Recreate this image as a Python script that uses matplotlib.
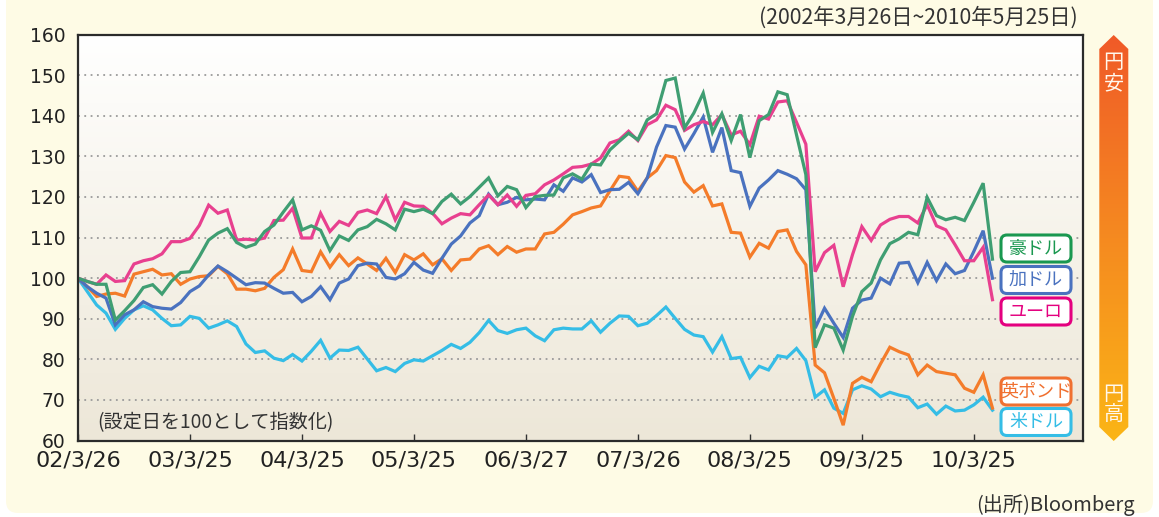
import matplotlib
matplotlib.use("Agg")
import matplotlib.pyplot as plt
import numpy as np
from matplotlib.patches import FancyBboxPatch, Polygon
from matplotlib.colors import LinearSegmentedColormap
from matplotlib.transforms import Affine2D

plt.rcParams['font.family'] = ['Noto Sans CJK JP', 'DejaVu Sans']

# month-end index values, 2002/3/26 = 100 (one point per month, 99 points)
aud = [100, 99.2, 98.5, 98.5, 89.7, 92.0, 94.5, 97.7, 98.4, 96.1,
       99.2, 101.4, 101.6, 105.3, 109.4, 111.1, 112.2, 108.8, 107.6, 108.4,
       111.5, 113.1, 116.3, 119.3, 111.9, 112.9, 111.8, 106.8, 110.4, 109.3,
       111.9, 112.7, 114.5, 113.4, 111.9, 117.0, 116.4, 117.0, 115.9, 118.9,
       120.7, 118.3, 120.1, 122.4, 124.7, 120.3, 122.6, 121.8, 117.4, 120.1,
       120.4, 120.5, 124.7, 125.7, 124.4, 128.1, 127.9, 131.6, 133.7, 135.7,
       134.1, 139.0, 140.5, 148.7, 149.3, 137.0, 140.7, 145.6, 135.9, 140.5,
       133.9, 140.3, 129.7, 138.8, 140.3, 145.9, 145.2, 135.3, 125.5, 82.9,
       88.5, 87.7, 82.3, 90.6, 96.7, 98.8, 104.5, 108.5, 109.7, 111.3,
       110.7, 119.9, 115.4, 114.4, 115.0, 114.2, 118.7, 123.4, 104.7]
cad = [100, 97.9, 96.3, 95.1, 88.5, 91.0, 92.2, 94.2, 93.0, 92.6,
       92.4, 94.0, 96.7, 98.1, 100.8, 103.0, 101.6, 100.0, 98.4, 98.9,
       98.8, 97.5, 96.3, 96.5, 94.2, 95.5, 97.9, 94.7, 98.8, 99.8,
       103.1, 103.7, 103.5, 100.2, 99.8, 101.1, 103.9, 102.0, 101.2, 104.9,
       108.4, 110.4, 113.6, 115.4, 120.7, 118.1, 118.7, 119.9, 119.3, 119.5,
       119.3, 123.0, 121.4, 124.7, 123.7, 125.5, 121.1, 121.8, 121.9, 123.6,
       120.8, 124.7, 132.3, 137.6, 137.2, 131.8, 135.6, 139.7, 131.0, 137.1,
       126.5, 126.0, 117.7, 122.2, 124.2, 126.5, 125.6, 124.5, 121.8, 87.7,
       92.6, 88.9, 85.4, 92.6, 94.6, 95.1, 100.0, 98.6, 103.7, 103.9,
       98.9, 103.9, 99.4, 103.5, 101.1, 101.9, 106.6, 111.7, 100.0]
eur = [100, 99.2, 98.5, 100.8, 99.2, 99.4, 103.5, 104.3, 104.8, 106.0,
       109.0, 109.0, 109.8, 113.0, 118.0, 116.0, 116.8, 109.4, 109.6, 109.4,
       109.9, 114.2, 114.3, 117.2, 109.9, 109.9, 116.0, 111.5, 114.0, 113.0,
       116.2, 116.8, 115.9, 120.1, 114.4, 118.7, 117.8, 117.7, 116.0, 113.4,
       114.8, 115.9, 115.6, 118.1, 120.5, 118.1, 120.5, 117.7, 120.4, 120.8,
       123.0, 124.2, 125.7, 127.3, 127.5, 128.1, 129.6, 133.3, 134.1, 136.2,
       133.9, 137.8, 139.0, 142.6, 141.5, 136.4, 137.8, 138.6, 137.8, 140.3,
       135.3, 136.2, 132.9, 139.9, 139.2, 143.4, 143.7, 138.4, 133.0, 101.6,
       106.3, 108.1, 97.9, 105.8, 112.7, 109.3, 113.1, 114.5, 115.2, 115.2,
       113.6, 118.1, 112.9, 111.9, 108.2, 104.3, 104.3, 107.6, 94.7]
gbp = [100, 97.9, 95.5, 96.1, 96.3, 95.6, 101.0, 101.6, 102.2, 100.8,
       101.1, 98.5, 99.8, 100.4, 100.6, 102.9, 101.1, 97.3, 97.3, 96.9,
       97.5, 100.2, 102.1, 107.2, 101.9, 101.6, 106.5, 102.7, 105.8, 103.1,
       105.0, 103.5, 101.9, 104.9, 101.4, 105.8, 104.5, 106.0, 103.3, 104.8,
       101.9, 104.5, 104.7, 107.2, 108.0, 105.8, 107.8, 106.4, 107.2, 107.2,
       110.9, 111.3, 113.3, 115.6, 116.4, 117.3, 117.8, 121.5, 125.1, 124.8,
       121.4, 124.7, 126.5, 130.2, 129.7, 123.7, 121.2, 122.8, 117.8, 118.3,
       111.3, 111.1, 105.2, 108.6, 107.4, 111.5, 111.9, 106.6, 103.3, 78.6,
       76.7, 70.4, 63.8, 74.1, 75.6, 74.5, 78.9, 83.0, 81.9, 81.1,
       76.2, 78.6, 77.0, 76.6, 76.2, 72.9, 71.9, 76.2, 68.0]
usd = [100, 96.7, 93.4, 91.4, 87.4, 90.1, 92.2, 93.2, 92.2, 90.1,
       88.3, 88.5, 90.6, 90.1, 87.7, 88.5, 89.5, 88.1, 83.8, 81.7,
       82.1, 80.3, 79.7, 81.2, 79.6, 82.0, 84.7, 80.3, 82.3, 82.2,
       83.0, 80.1, 77.2, 78.0, 77.0, 79.0, 79.9, 79.6, 80.9, 82.2,
       83.7, 82.7, 84.2, 86.6, 89.6, 87.1, 86.4, 87.3, 87.7, 85.8,
       84.6, 87.3, 87.7, 87.5, 87.5, 89.5, 86.7, 88.9, 90.7, 90.6,
       88.3, 88.9, 90.8, 92.9, 90.1, 87.4, 86.0, 85.6, 81.8, 85.6,
       80.2, 80.5, 75.5, 78.3, 77.4, 80.9, 80.5, 82.7, 79.7, 70.7,
       72.5, 68.0, 66.7, 72.5, 73.5, 72.7, 70.8, 71.9, 71.2, 70.7,
       68.1, 69.0, 66.5, 68.5, 67.3, 67.5, 68.8, 70.7, 67.5]

series_names = ["豪ドル", "加ドル", "ユーロ", "英ポンド", "米ドル"]
tick_months = [0, 12, 24, 36, 48, 60, 72, 84, 96]
tick_labels = ["02/3/26", "03/3/25", "04/3/25", "05/3/25", "06/3/27",
               "07/3/26", "08/3/25", "09/3/25", "10/3/25"]
y_ticks = [60, 70, 80, 90, 100, 110, 120, 130, 140, 150, 160]

W, H = 1159, 517
fig = plt.figure(figsize=(W / 100, H / 100), dpi=100, facecolor="white")
# pixel coordinates (origin top-left) -> figure
px = Affine2D().scale(1 / W, -1 / H).translate(0, 1) + fig.transFigure

fig.patches.append(FancyBboxPatch((6, -20), 1147, 533, boxstyle="round,pad=0,rounding_size=12",
                                  fc="#fefbe5", ec="none", transform=px, zorder=-5))

ax = fig.add_axes([78 / W, 1 - 440.6 / H, (1083 - 78) / W, (440.6 - 34.6) / H])
ax.set_facecolor("none")
grad = np.linspace(0, 1, 256).reshape(-1, 1)
bg = LinearSegmentedColormap.from_list("bg", ["#ede7d8", "#f6f3ea", "#ffffff"])
ax.imshow(grad, cmap=bg, extent=[0, 1, 0, 1], transform=ax.transAxes,
          aspect="auto", origin="lower", zorder=0)

months = np.arange(len(aud))
colors = {"豪ドル": "#3f9e72", "加ドル": "#4a72bf", "ユーロ": "#e8408f",
          "英ポンド": "#f47c2a", "米ドル": "#35bde6"}
for name, vals in [("米ドル", usd), ("英ポンド", gbp), ("加ドル", cad),
                   ("ユーロ", eur), ("豪ドル", aud)]:
    ax.plot(months, vals, color=colors[name], lw=2.3, solid_joinstyle="miter", zorder=3)

ax.set_xlim(0, 107.7)
ax.set_ylim(60, 160)
ax.set_yticks(y_ticks)
ax.set_yticklabels([str(v) for v in y_ticks], family="DejaVu Sans", fontsize=13.5, color="#222222")
ax.set_xticks(tick_months)
ax.set_xticklabels(tick_labels, family="DejaVu Sans", fontsize=16, color="#222222")
ax.tick_params(axis="y", length=0, pad=9)
ax.tick_params(axis="x", direction="in", length=5, width=1, color="#333333", pad=7)
ax.yaxis.grid(True, color="#9a9a9a", lw=1.3, ls=(0, (1, 2.5)))
ax.set_axisbelow(False)
for s in ax.spines.values():
    s.set_color("#2b2b2b")
    s.set_linewidth(1.6)
    s.set_zorder(4)

ax.text(97, 422.5, "(設定日を100として指数化)", transform=px, fontsize=13.8,
        color="#333333", va="center", ha="left", zorder=5)

# legend boxes
legend_y = {"豪ドル": 248.5, "加ドル": 280, "ユーロ": 311.5, "英ポンド": 391.5, "米ドル": 422}
edge = {"豪ドル": "#1a9850", "加ドル": "#4a72bf", "ユーロ": "#e4007f",
        "英ポンド": "#f07030", "米ドル": "#35bde6"}
for name in series_names:
    cy = legend_y[name]
    fig.patches.append(FancyBboxPatch((1001, cy - 13.5), 70, 27,
                                      boxstyle="round,pad=0,rounding_size=6",
                                      fc="white", ec=edge[name], lw=2.2, transform=px, zorder=6))
    fig.text(1036, cy, name, transform=px, fontsize=13, color=edge[name],
             ha="center", va="center", zorder=7)

# yen arrow bar
arr = fig.add_axes([1095 / W, 0, 40 / W, 1])
arr.set_xlim(1095, 1135)
arr.set_ylim(H, 0)
arr.axis("off")
arr.patch.set_alpha(0)
hexa = Polygon([(1113.7, 35), (1128.3, 49), (1128.3, 427), (1113.7, 441),
                (1099.3, 427), (1099.3, 49)], closed=True, fc="none", ec="none")
arr.add_patch(hexa)
acmap = LinearSegmentedColormap.from_list("yen", ["#f05a28", "#f58a20", "#fbb516"])
im = arr.imshow(np.linspace(0, 1, 256).reshape(-1, 1), cmap=acmap, aspect="auto",
                extent=[1099, 1129, 441, 35], origin="upper")
im.set_clip_path(hexa)
for ch, y in [("円", 63), ("安", 84), ("円", 394), ("高", 414)]:
    arr.text(1113.7, y, ch, fontsize=14.5, color="#fff8ee", ha="center", va="center")

fig.text(1078, 18, "(2002年3月26日~2010年5月25日)", transform=px, fontsize=15.3,
         color="#333333", ha="right", va="center")
fig.text(1135, 505, "(出所)Bloomberg", transform=px, fontsize=14.5,
         color="#333333", ha="right", va="center")

fig.savefig("out.png", dpi=100, facecolor=fig.get_facecolor())
